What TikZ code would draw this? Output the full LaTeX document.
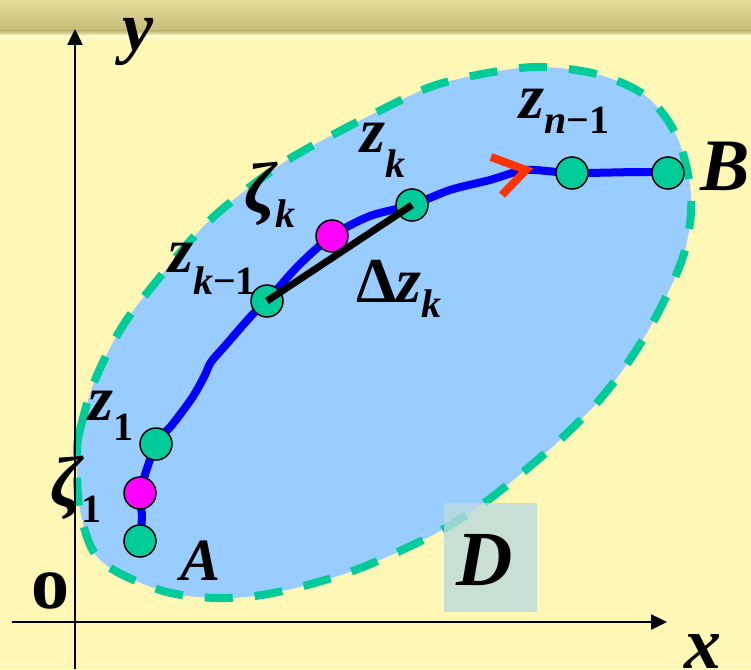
\documentclass[tikz,border=0pt]{standalone}
\usepackage{fontspec}
\setmainfont{Liberation Serif}
\usetikzlibrary{arrows.meta}
\definecolor{bgyellow}{RGB}{255,247,181}
\definecolor{bandtop}{RGB}{228,220,152}
\definecolor{bandbot}{RGB}{198,188,122}
\definecolor{bandlite}{RGB}{255,250,205}
\definecolor{regionblue}{RGB}{153,204,255}
\definecolor{dashgreen}{RGB}{0,204,153}
\definecolor{curveblue}{RGB}{0,0,255}
\definecolor{ptmagenta}{RGB}{255,0,255}
\definecolor{arrred}{RGB}{255,51,0}
\definecolor{boxgray}{RGB}{186,218,222}
\newcommand{\bigf}{\fontsize{64}{66}\selectfont\bfseries\itshape}
\newcommand{\subf}{\fontsize{40}{42}\selectfont\bfseries}
\newcommand{\grk}{\fontsize{72}{74}\selectfont}
\begin{document}
\begin{tikzpicture}[x=1pt,y=-1pt,
  axis/.style={line width=2.5pt,-{Triangle[length=16pt,width=15pt]}},
  ptgreen/.style={circle,minimum size=32pt,inner sep=0pt,fill=dashgreen,draw=black,line width=1.5pt},
  ptmag/.style={circle,minimum size=32pt,inner sep=0pt,fill=ptmagenta,draw=black,line width=1.5pt},
  lbl/.style={inner sep=0pt,anchor=base west,font=\bigf},
]
\useasboundingbox (0,0) rectangle (751,669);
\fill[bgyellow] (0,0) rectangle (751,669);
\shade[top color=bandtop,bottom color=bandbot] (0,0) rectangle (751,31);
\shade[top color=bandbot,bottom color=bandlite] (0,31) rectangle (751,36);
\shade[top color=bandlite,bottom color=bgyellow] (0,36) rectangle (751,42);

% region D
\path[fill=regionblue] plot[smooth cycle,tension=0.55] coordinates {
 (77,455) (80,430) (95,380) (122,327) (155,283) (200,230) (237,197) (283,163)
 (323,140) (377,112) (433,86) (493,72) (543,67) (600,75) (647,97) (677,137)
 (691,195) (685,250) (663,303) (635,352) (602,397) (563,437) (522,473)
 (477,508) (427,538) (350,572) (273,593) (217,598) (160,590) (100,560) (80,510)};
\draw[dashgreen,line width=8pt,dash pattern=on 28pt off 22pt] plot[smooth cycle,tension=0.55] coordinates {
 (77,455) (80,430) (95,380) (122,327) (155,283) (200,230) (237,197) (283,163)
 (323,140) (377,112) (433,86) (493,72) (543,67) (600,75) (647,97) (677,137)
 (691,195) (685,250) (663,303) (635,352) (602,397) (563,437) (522,473)
 (477,508) (427,538) (350,572) (273,593) (217,598) (160,590) (100,560) (80,510)};

% axes
\coordinate (xs) at (12,622);
\coordinate (xe) at (667,622);
\coordinate (ys) at (75,669);
\coordinate (ye) at (75,29);
\draw[axis] (xs) -- (xe);
\draw[axis] (ys) -- (ye);

% curve points
\coordinate (A) at (140,541);
\coordinate (zeta1) at (140,493);
\coordinate (z1) at (156,444);
\coordinate (zk1) at (267,301);
\coordinate (zetak) at (332,236);
\coordinate (zk) at (412,205);
\coordinate (tip) at (526,170);
\coordinate (zn1) at (572,173);
\coordinate (B) at (668,173);

\draw[curveblue,line width=8pt,line join=round] plot[smooth,tension=0.5] coordinates {
 (A) (142,515) (zeta1) (z1) (172,425) (192,398) (204,377) (211,362) (224,347) (252,315) (zk1)
 (298,266) (zetak) (370,216) (zk) (450,190) (490,180) (tip) (zn1) (640,172) (B)};

% points
\node[ptgreen] (nA) at (A) {};
\node[ptmag] (nzeta1) at (zeta1) {};
\node[ptgreen] (nz1) at (z1) {};
\node[ptgreen] (nzk1) at (zk1) {};
\node[ptmag] (nzetak) at (zetak) {};
\node[ptgreen] (nzk) at (zk) {};
\node[ptgreen] (nzn1) at (zn1) {};
\node[ptgreen] (nB) at (B) {};

% chord
\draw[black,line width=7pt] (nzk1.center) -- (nzk.center);

% direction arrow
\coordinate (arm1) at (491,157);
\coordinate (arm2) at (502,195);
\draw[arrred,line width=8pt,miter limit=10] (arm1) -- (tip) -- (arm2);

% labels
\node[lbl] (ly) at (122,50) {\fontsize{70}{72}\selectfont y};
\node[lbl] (lx) at (684,668) {\fontsize{74}{76}\selectfont x};
\node[lbl] (l0) at (31,608) {\fontsize{76}{78}\selectfont\upshape o};
\node[lbl] (lA) at (180,580) {\fontsize{60}{62}\selectfont A};
\node[lbl] (lB) at (700,190) {\fontsize{74}{76}\selectfont B};
\node[lbl] (lz1) at (88,420) {z\raisebox{-20pt}{\subf\upshape 1}};
\node[lbl] (lzeta1) at (50,506) {{\grk ζ}\raisebox{-16pt}{\subf\upshape 1}};
\node[lbl] (lzk1) at (168,272) {z\raisebox{-22pt}{\subf\itshape k\upshape −1}};
\node[lbl] (lzetak) at (244,212) {{\grk ζ}\raisebox{-15pt}{\subf\itshape k}};
\node[lbl] (lzk) at (360,152) {z\raisebox{-25pt}{\subf\itshape k}};
\node[lbl] (ldz) at (356,302) {\upshape Δ\itshape z\raisebox{-15pt}{\subf\itshape k}};
\node[lbl] (lzn1) at (519,118) {z\raisebox{-15pt}{\subf\itshape n\upshape −1}};

% D box
\fill[boxgray,fill opacity=0.8] (444,503) rectangle (537,612);
\node[lbl] (lD) at (456,585) {\fontsize{78}{80}\selectfont D};
\end{tikzpicture}
\end{document}
